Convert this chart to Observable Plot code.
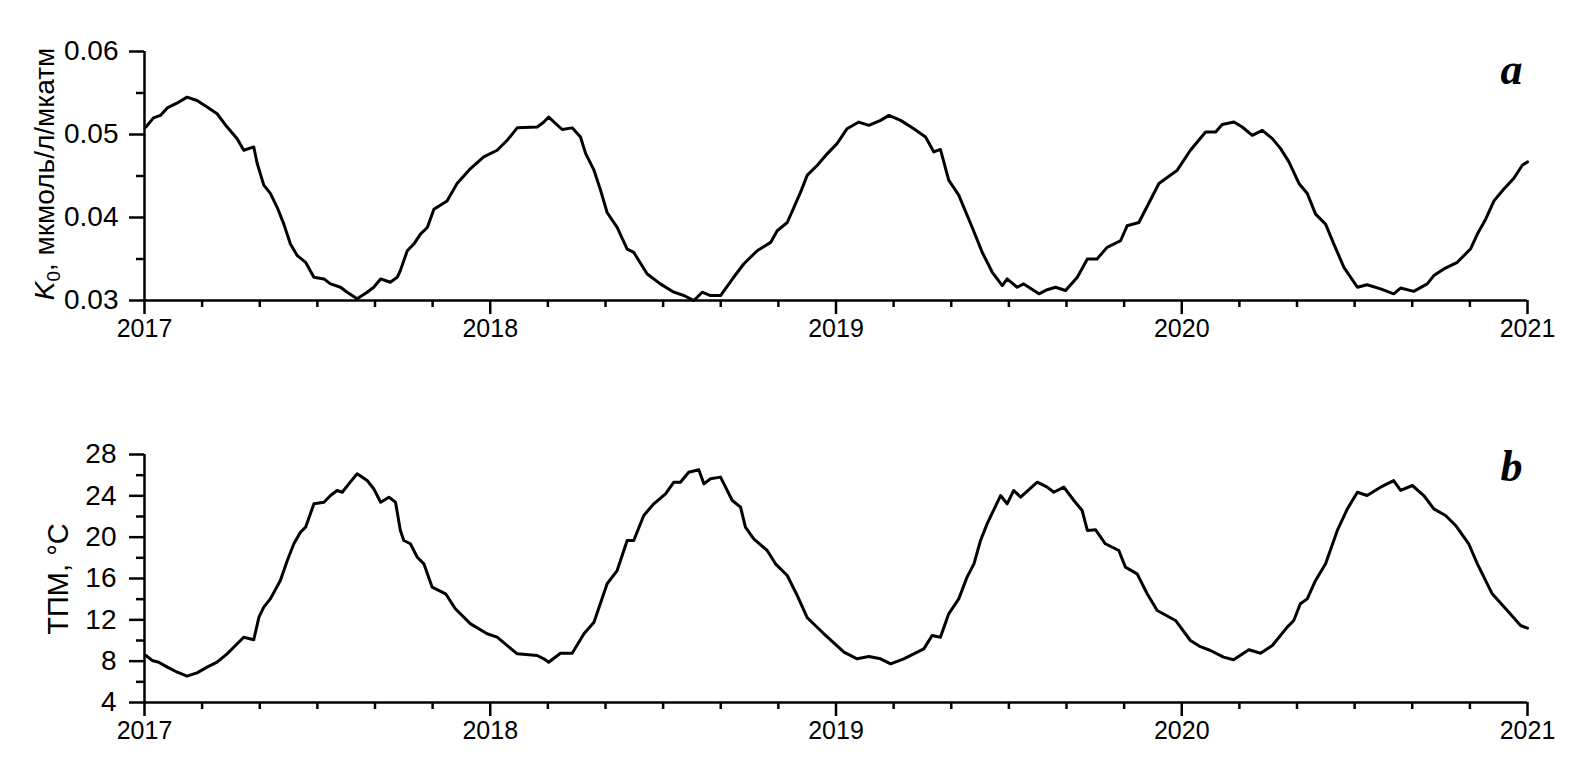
<!DOCTYPE html>
<html>
<head>
<meta charset="utf-8">
<script src="https://cdn.jsdelivr.net/npm/d3@7"></script>
<script src="https://cdn.jsdelivr.net/npm/@observablehq/plot@0.6"></script>
<style>
  html, body { margin: 0; padding: 0; background: #fff; }
  #chart svg { display: block; }
</style>
</head>
<body>
<div id="chart"></div>
<script>
// ---- Panel a: K0 (mkmol/l/mkatm) ----
const yearsA = [2017.004,2017.026,2017.046,2017.066,2017.095,2017.123,2017.152,2017.181,2017.210,2017.239,2017.268,2017.287,2017.316,2017.326,2017.345,2017.364,2017.384,2017.403,2017.422,2017.442,2017.466,2017.490,2017.519,2017.538,2017.567,2017.586,2017.615,2017.644,2017.663,2017.683,2017.711,2017.731,2017.740,2017.760,2017.779,2017.798,2017.818,2017.837,2017.875,2017.904,2017.943,2017.981,2018.020,2018.049,2018.078,2018.136,2018.155,2018.169,2018.208,2018.237,2018.261,2018.276,2018.300,2018.319,2018.338,2018.367,2018.396,2018.415,2018.454,2018.492,2018.531,2018.560,2018.589,2018.613,2018.637,2018.666,2018.704,2018.733,2018.772,2018.811,2018.830,2018.859,2018.897,2018.917,2018.946,2018.975,2019.003,2019.032,2019.066,2019.095,2019.129,2019.153,2019.187,2019.225,2019.259,2019.283,2019.302,2019.326,2019.355,2019.394,2019.423,2019.452,2019.481,2019.495,2019.524,2019.543,2019.587,2019.611,2019.635,2019.664,2019.698,2019.727,2019.755,2019.784,2019.823,2019.842,2019.876,2019.934,2019.987,2020.025,2020.069,2020.098,2020.117,2020.151,2020.175,2020.204,2020.233,2020.262,2020.286,2020.310,2020.339,2020.363,2020.387,2020.416,2020.440,2020.469,2020.508,2020.536,2020.575,2020.613,2020.633,2020.671,2020.710,2020.729,2020.758,2020.797,2020.835,2020.855,2020.879,2020.903,2020.931,2020.960,2020.985,2021.000];
const k0 = [0.0509,0.0520,0.0523,0.0532,0.0538,0.0545,0.0541,0.0533,0.0525,0.0509,0.0495,0.0481,0.0485,0.0465,0.0439,0.0429,0.0412,0.0392,0.0368,0.0354,0.0346,0.0328,0.0326,0.0320,0.0316,0.0310,0.0302,0.0310,0.0316,0.0326,0.0322,0.0328,0.0336,0.0360,0.0368,0.0380,0.0388,0.0410,0.0420,0.0441,0.0459,0.0473,0.0481,0.0493,0.0508,0.0509,0.0515,0.0521,0.0506,0.0508,0.0497,0.0477,0.0457,0.0433,0.0406,0.0388,0.0362,0.0358,0.0332,0.0320,0.0310,0.0306,0.0300,0.0310,0.0306,0.0306,0.0328,0.0344,0.0360,0.0370,0.0384,0.0394,0.0430,0.0451,0.0463,0.0477,0.0489,0.0507,0.0515,0.0511,0.0517,0.0523,0.0517,0.0507,0.0497,0.0479,0.0482,0.0445,0.0427,0.0388,0.0358,0.0334,0.0318,0.0326,0.0316,0.0320,0.0308,0.0313,0.0316,0.0312,0.0328,0.0350,0.0350,0.0364,0.0372,0.0390,0.0394,0.0441,0.0457,0.0481,0.0503,0.0503,0.0512,0.0515,0.0509,0.0499,0.0505,0.0495,0.0483,0.0467,0.0441,0.0429,0.0404,0.0392,0.0368,0.0340,0.0316,0.0319,0.0314,0.0308,0.0315,0.0311,0.0320,0.0330,0.0338,0.0346,0.0362,0.0380,0.0398,0.0420,0.0434,0.0447,0.0463,0.0467];

// ---- Panel b: SST (ТПМ, °C) ----
const yearsB = [2017.004,2017.022,2017.041,2017.066,2017.095,2017.123,2017.152,2017.181,2017.210,2017.239,2017.258,2017.287,2017.316,2017.331,2017.345,2017.364,2017.393,2017.413,2017.432,2017.451,2017.466,2017.490,2017.519,2017.538,2017.557,2017.572,2017.591,2017.615,2017.644,2017.663,2017.683,2017.707,2017.726,2017.740,2017.750,2017.769,2017.789,2017.808,2017.832,2017.871,2017.899,2017.943,2017.991,2018.020,2018.078,2018.136,2018.155,2018.169,2018.203,2018.237,2018.271,2018.300,2018.338,2018.367,2018.396,2018.415,2018.444,2018.473,2018.507,2018.531,2018.550,2018.574,2018.603,2018.618,2018.637,2018.666,2018.700,2018.724,2018.738,2018.762,2018.801,2018.825,2018.859,2018.888,2018.917,2018.965,2019.023,2019.061,2019.095,2019.129,2019.158,2019.196,2019.254,2019.278,2019.302,2019.326,2019.355,2019.379,2019.399,2019.418,2019.437,2019.476,2019.495,2019.514,2019.534,2019.582,2019.611,2019.630,2019.659,2019.688,2019.712,2019.727,2019.751,2019.779,2019.818,2019.837,2019.871,2019.900,2019.929,2019.982,2020.025,2020.054,2020.083,2020.121,2020.150,2020.194,2020.228,2020.262,2020.305,2020.324,2020.343,2020.363,2020.387,2020.416,2020.450,2020.479,2020.508,2020.536,2020.575,2020.613,2020.633,2020.667,2020.700,2020.729,2020.763,2020.792,2020.830,2020.855,2020.898,2020.946,2020.980,2021.000];
const sst = [8.55,8.07,7.90,7.42,6.93,6.55,6.87,7.42,7.90,8.71,9.35,10.32,10.07,12.26,13.23,14.03,15.81,17.74,19.36,20.48,20.97,23.23,23.38,24.03,24.52,24.35,25.16,26.13,25.48,24.68,23.38,23.87,23.38,20.65,19.68,19.36,18.06,17.42,15.16,14.52,13.07,11.61,10.65,10.32,8.71,8.55,8.23,7.90,8.77,8.77,10.65,11.77,15.49,16.77,19.68,19.68,22.10,23.23,24.20,25.32,25.32,26.29,26.52,25.16,25.65,25.81,23.55,22.90,20.97,19.84,18.71,17.42,16.29,14.35,12.20,10.65,8.87,8.23,8.45,8.23,7.74,8.23,9.19,10.48,10.32,12.58,14.03,16.13,17.42,19.68,21.29,24.03,23.23,24.52,23.87,25.32,24.84,24.35,24.84,23.55,22.58,20.65,20.71,19.36,18.71,17.10,16.45,14.52,12.90,11.94,10.00,9.40,9.03,8.39,8.13,9.10,8.77,9.52,11.29,11.94,13.55,14.03,15.81,17.42,20.65,22.74,24.35,24.03,24.84,25.48,24.52,25.00,24.03,22.74,22.10,21.13,19.36,17.42,14.52,12.74,11.45,11.19];

// ---- Tick labels ----
const yearTicks = [2017, 2018, 2019, 2020, 2021];
const monthTicks = d3.range(1, 24).filter(k => k % 6 !== 0).map(k => 2017 + k / 6);
const k0Ticks = [0.03, 0.04, 0.05, 0.06];
const k0Minor = [0.035, 0.045, 0.055];
const sstTicks = [4, 8, 12, 16, 20, 24, 28];
const sstMinor = [6, 10, 14, 18, 22, 26];

const FONT = "'Liberation Sans', Arial, sans-serif";
const W = 1576;
const AX = 2.5;

const dataA = yearsA.map((t, i) => ({t, v: k0[i]}));
const dataB = yearsB.map((t, i) => ({t, v: sst[i]}));

function panel({data, height, mt, mb, yDomain, yTicks, yMinor, yFmt, tickPadY, letter, letterDy}) {
  return Plot.plot({
    width: W, height,
    marginLeft: 144, marginRight: 49, marginTop: mt, marginBottom: mb,
    style: {fontFamily: FONT, fontSize: "25px", color: "#000", background: "#fff", overflow: "visible"},
    x: {type: "linear", domain: [2017, 2021], label: null},
    y: {domain: yDomain, label: null},
    marks: [
      Plot.axisX(yearTicks, {tickSize: 14, tickPadding: 5, tickFormat: d => String(d), fontSize: 25, strokeWidth: AX, label: null}),
      Plot.axisX(monthTicks, {tickSize: 7, text: null, strokeWidth: AX, label: null}),
      Plot.axisY(yTicks, {tickSize: 15, tickPadding: tickPadY, tickFormat: yFmt, fontSize: 28, strokeWidth: AX, label: null}),
      Plot.axisY(yMinor, {tickSize: 8, text: null, strokeWidth: AX, label: null}),
      Plot.ruleY([yDomain[0]], {stroke: "#000", strokeWidth: AX}),
      Plot.ruleX([2017], {stroke: "#000", strokeWidth: AX}),
      Plot.line(data, {x: "t", y: "v", stroke: "#000", strokeWidth: 3, strokeLinejoin: "round"}),
      Plot.text([letter], {frameAnchor: "top-right", dx: -5, dy: letterDy, fontSize: 44, fontWeight: "bold", fontStyle: "italic", fontFamily: "'Liberation Serif', 'Times New Roman', serif", fill: "#000"})
    ]
  });
}

const svgA = panel({data: dataA, height: 380, mt: 51, mb: 80, yDomain: [0.03, 0.06], yTicks: k0Ticks, yMinor: k0Minor, yFmt: d3.format(".2f"), tickPadY: 11, letter: "a", letterDy: 1});
const svgB = panel({data: dataB, height: 403, mt: 74, mb: 81, yDomain: [4, 28], yTicks: sstTicks, yMinor: sstMinor, yFmt: d => String(d), tickPadY: 13, letter: "b", letterDy: -5});

// Y axis titles (rich text: italic K with subscript 0)
const tA = d3.select(svgA).append("text")
  .attr("transform", "translate(54,174) rotate(-90)")
  .attr("text-anchor", "middle")
  .attr("font-family", FONT).attr("font-size", 28).attr("fill", "#000");
tA.append("tspan").attr("font-style", "italic").text("K");
tA.append("tspan").attr("font-size", 19).attr("dy", 6).text("0");
tA.append("tspan").attr("dy", -6).text(", мкмоль/л/мкатм");

d3.select(svgB).append("text")
  .attr("transform", "translate(68,199) rotate(-90)")
  .attr("text-anchor", "middle")
  .attr("font-family", FONT).attr("font-size", 29).attr("fill", "#000")
  .text("ТПМ, °С");

const chart = document.getElementById("chart");
chart.appendChild(svgA);
chart.appendChild(svgB);
</script>
</body>
</html>
